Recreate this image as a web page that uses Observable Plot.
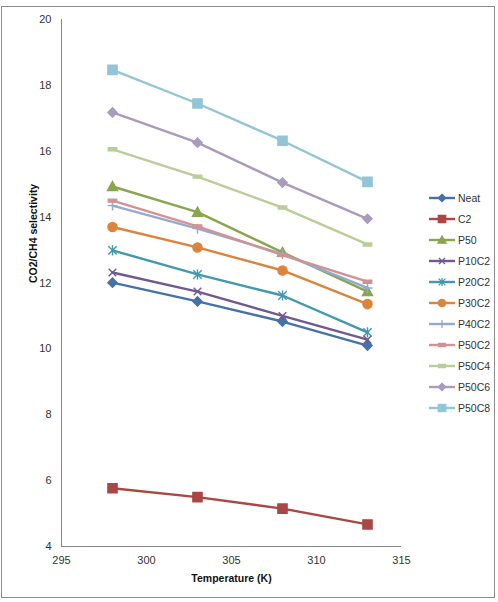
<!DOCTYPE html>
<html><head><meta charset="utf-8">
<script src="https://cdn.jsdelivr.net/npm/d3@7"></script>
<script src="https://cdn.jsdelivr.net/npm/@observablehq/plot@0.6"></script>
<style>
body{margin:0;background:#fff;font-family:"Liberation Sans",Arial,sans-serif;}
#wrap{position:relative;width:498px;height:602px;overflow:hidden;}
#border{position:absolute;left:1px;top:6px;width:494px;height:592px;border:1px solid #8c8c8c;box-sizing:border-box;}
#chart{position:absolute;left:0;top:0;}
#legend{position:absolute;left:0;top:0;}
</style></head>
<body><div id="wrap"><div id="border"></div><div id="chart"></div><svg id="legend" width="498" height="602"></svg></div>
<script>
const temperatures = [298, 303, 308, 313];
const seriesNames = ["Neat","C2","P50","P10C2","P20C2","P30C2","P40C2","P50C2","P50C4","P50C6","P50C8"];
const Neat  = [12.01, 11.44, 10.83, 10.10];
const C2    = [5.77, 5.50, 5.15, 4.67];
const P50   = [14.93, 14.15, 12.93, 11.74];
const P10C2 = [12.32, 11.74, 11.00, 10.28];
const P20C2 = [12.99, 12.26, 11.62, 10.50];
const P30C2 = [13.70, 13.08, 12.38, 11.36];
const P40C2 = [14.35, 13.65, 12.88, 11.85];
const P50C2 = [14.50, 13.72, 12.85, 12.04];
const P50C4 = [16.06, 15.23, 14.29, 13.17];
const P50C6 = [17.18, 16.26, 15.05, 13.95];
const P50C8 = [18.47, 17.45, 16.32, 15.07];
const colors = ["#4572A7","#AA4643","#89A54E","#71588F","#4198AF","#DB843D","#93A9CF","#D19392","#B9CD96","#A99BBD","#92C5D5"];
const yTicks = [4,6,8,10,12,14,16,18,20];
const xTicks = [295,300,305,310,315];

const valuesBySeries = {Neat,C2,P50,P10C2,P20C2,P30C2,P40C2,P50C2,P50C4,P50C6,P50C8};
const data = seriesNames.flatMap(s => temperatures.map((t,i) => ({series:s, T:t, v:valuesBySeries[s][i]})));

const mk = (fn) => (k) => ({draw(ctx){ fn(ctx, k); }});
const shapes = {
  diamond: mk((c,k)=>{const d=4.6*k; c.moveTo(0,-d); c.lineTo(d,0); c.lineTo(0,d); c.lineTo(-d,0); c.closePath();}),
  square: mk((c,k)=>{const d=4.6*k; c.rect(-d,-d,2*d,2*d);}),
  triangle: mk((c,k)=>{const d=5*k; c.moveTo(0,-d); c.lineTo(d,d*0.8); c.lineTo(-d,d*0.8); c.closePath();}),
  times: mk((c,k)=>{const d=3.8*k; c.moveTo(-d,-d); c.lineTo(d,d); c.moveTo(d,-d); c.lineTo(-d,d);}),
  asterisk: mk((c,k)=>{const d=4.2*k; c.moveTo(-d,-d); c.lineTo(d,d); c.moveTo(d,-d); c.lineTo(-d,d); c.moveTo(0,-d*1.2); c.lineTo(0,d*1.2);}),
  circle: mk((c,k)=>{const r=4.6*k; c.moveTo(r,0); c.arc(0,0,r,0,2*Math.PI);}),
  plus: mk((c,k)=>{const d=5*k; c.moveTo(-d,0); c.lineTo(d,0); c.moveTo(0,-d); c.lineTo(0,d);}),
  dash: mk((c,k)=>{const w=4.2*k, h=1.5; c.rect(-w,-h,2*w,2*h);})
};
const shapeFor = {Neat:"diamond",C2:"square",P50:"triangle",P10C2:"times",P20C2:"asterisk",P30C2:"circle",P40C2:"plus",P50C2:"dash",P50C4:"dash",P50C6:"diamond",P50C8:"square"};

const marks = [
  Plot.ruleX([295], {stroke:"#868686", strokeWidth:1}),
  Plot.ruleY([4], {stroke:"#868686", strokeWidth:1}),
];
for (const s of seriesNames) {
  const d = data.filter(r => r.series === s);
  const c = colors[seriesNames.indexOf(s)];
  marks.push(Plot.line(d, {x:"T", y:"v", stroke:c, strokeWidth:2.4}));
  marks.push(Plot.dot(d, {x:"T", y:"v", symbol:()=>s, r:5, fill:c, stroke:c, strokeWidth:1.4}));
}

const chart = Plot.plot({
  width:498, height:602,
  marginLeft:61, marginRight:97, marginTop:19, marginBottom:56,
  style:{fontFamily:"Liberation Sans, Arial, sans-serif", fontSize:"11px", color:"#333", background:"transparent"},
  x:{domain:[295,315], ticks:xTicks, tickSize:0, tickPadding:10, label:null},
  y:{domain:[4,20], ticks:yTicks, tickSize:0, tickPadding:10, label:null},
  symbol:{domain:seriesNames, range:seriesNames.map(s=>shapes[shapeFor[s]](1))},
  marks:[
    ...marks,
    Plot.text(["Temperature (K)"], {frameAnchor:"bottom", dy:35, fontWeight:"bold", fontSize:10.5, fill:"#111"}),
    Plot.text(["CO2/CH4 selectivity"], {frameAnchor:"left", dx:-28, rotate:-90, fontWeight:"bold", fontSize:10.5, fill:"#111"})
  ]
});
document.getElementById("chart").appendChild(chart);

const lg = d3.select("#legend");
seriesNames.forEach((s,i) => {
  const y = 198 + i*21;
  const g = lg.append("g");
  g.append("line").attr("x1",429).attr("x2",455).attr("y1",y).attr("y2",y).attr("stroke",colors[i]).attr("stroke-width",2.4);
  g.append("path").attr("transform",`translate(442,${y})`).attr("d",d3.symbol(shapes[shapeFor[s]](0.8))())
    .attr("fill",colors[i]).attr("stroke",colors[i]).attr("stroke-width",1.3);
  g.append("text").attr("x",458).attr("y",y).attr("dy","0.35em").attr("font-size",10.5).attr("fill","#333")
    .attr("font-family","Liberation Sans, Arial, sans-serif").text(s);
});
</script></body></html>
